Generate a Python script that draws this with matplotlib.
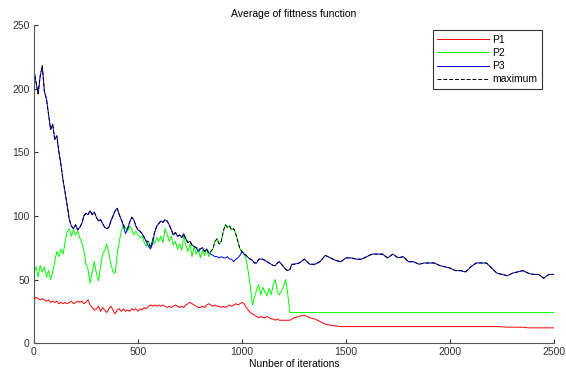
import numpy as np
import matplotlib.pyplot as plt

plt.rcParams['font.family'] = ['Liberation Sans', 'DejaVu Sans']

# iterations: every 10 up to 1250, then every 25 up to 2500
iters = list(range(0, 1251, 10)) + list(range(1275, 2501, 25))

p1 = [34, 36, 35, 34, 35, 34, 33, 34, 32, 33, 32, 33, 31, 32, 31, 32, 31, 32, 33, 31,
      32, 33, 32, 33, 31, 32, 34, 30, 28, 26, 27, 29, 25, 28, 26, 24, 27, 29, 26, 23,
      26, 27, 25, 27, 25, 26, 25, 27, 26, 27, 25, 27, 26, 28, 27, 29, 30, 29, 30, 29,
      30, 29, 30, 29, 28, 29, 28, 29, 30, 29, 28, 29, 28, 30, 31, 32, 31, 30, 29, 28,
      28, 29, 28, 30, 31, 30, 29, 30, 29, 29, 28, 29, 28, 29, 30, 29, 30, 31, 30, 31,
      32, 31, 28, 26, 24, 23, 22, 21, 20, 21, 20, 20, 21, 20, 19, 19, 18, 19, 18, 18,
      18, 18, 18, 18, 19, 20,
      21, 22, 20, 19, 17, 15, 14, 13.5, 13, 13, 13, 13, 13, 13, 13, 13, 13, 13, 13, 13,
      13, 13, 13, 13, 13, 13, 13, 13, 13, 13, 13, 13, 13, 13, 13, 13, 13, 13, 13, 12.8,
      12.5, 12.6, 12.5, 12.5, 12, 12, 12, 12, 12, 12]

p2 = [55, 60, 52, 61, 56, 60, 52, 57, 50, 56, 64, 72, 68, 74, 70, 80, 88, 90, 84, 89,
      85, 88, 83, 79, 73, 62, 58, 47, 56, 64, 55, 49, 60, 70, 73, 78, 70, 62, 56, 55,
      70, 80, 88, 93, 90, 88, 92, 89, 85, 88, 85, 83, 84, 79, 76, 80, 75, 81, 78, 83,
      80, 84, 79, 90, 86, 80, 84, 77, 80, 74, 78, 73, 85, 77, 72, 78, 68, 76, 70, 74,
      67, 73, 69, 74, 68, 72, 74, 80, 82, 78, 80, 88, 93, 91, 92, 89, 90, 86, 80, 74,
      72, 70, 66, 56, 45, 30, 36, 42, 46, 38, 44, 40, 37, 43, 38, 46, 50, 40, 38, 41,
      45, 50, 38, 24, 24, 24,
      24, 24, 24, 24, 24, 24, 24, 24, 24, 24, 24, 24, 24, 24, 24, 24, 24, 24, 24, 24,
      24, 24, 24, 24, 24, 24, 24, 24, 24, 24, 24, 24, 24, 24, 24, 24, 24, 24, 24, 24,
      24, 24, 24, 24, 24, 24, 24, 24, 24, 24]

p3 = [215, 205, 196, 210, 218, 198, 192, 180, 168, 172, 160, 163, 150, 140, 128, 118, 108, 97, 92, 90,
      93, 89, 91, 94, 100, 102, 101, 104, 101, 103, 99, 96, 97, 94, 91, 90, 91, 96, 100, 104,
      106, 101, 97, 92, 86, 90, 95, 99, 97, 92, 89, 88, 86, 83, 80, 76, 74, 78, 87, 92,
      94, 96, 95, 97, 96, 93, 89, 85, 87, 84, 85, 83, 86, 82, 79, 80, 77, 76, 75, 72,
      74, 75, 72, 74, 71, 70, 69, 68, 68, 67, 68, 67, 67, 68, 66, 66, 64, 66, 67, 69,
      72, 70, 69, 67, 66, 65, 63, 63, 66, 66, 66, 65, 64, 63, 62, 61, 61, 63, 64, 62,
      60, 58, 57, 58, 62, 62,
      63, 66, 62, 62, 64, 69, 67, 65, 64, 67, 67, 66, 66, 68, 70, 70, 70, 67, 70, 67,
      68, 64, 64, 62, 63, 63, 63, 61, 60, 59, 57, 57, 56, 60, 63, 63, 63, 59, 55, 54,
      53, 55, 56, 57, 55, 54, 54, 51, 54, 54]

maximum = np.maximum(np.maximum(p1, p2), p3)

fig = plt.figure(figsize=(5.66, 3.75), dpi=100)
ax = fig.add_axes([0.060, 0.085, 0.919, 0.848])

ax.plot(iters, p1, color='#ff0000', lw=0.7, label='P1')
ax.plot(iters, p2, color='#00ff00', lw=0.7, label='P2')
ax.plot(iters, p3, color='#0000ff', lw=0.7, label='P3')
ax.plot(iters, maximum, color='black', lw=0.7, ls=(0, (4, 2)), label='maximum')

ax.set_xlim(0, 2500)
ax.set_ylim(0, 250)
ax.set_xticks([0, 500, 1000, 1500, 2000, 2500])
ax.set_yticks([0, 50, 100, 150, 200, 250])
ax.tick_params(direction='in', length=3, labelsize=7.5, colors='#333333', pad=3)
for s in ['top', 'right']:
    ax.spines[s].set_visible(False)
for s in ['left', 'bottom']:
    ax.spines[s].set_color('#555555')
    ax.spines[s].set_linewidth(0.8)

ax.set_title('Average of fittness function', fontsize=7.5, pad=6)
ax.set_xlabel('Nunber of iterations', fontsize=7.5, labelpad=1)

leg = ax.legend(loc='upper right', bbox_to_anchor=(0.987, 1.0), fontsize=7.5,
                fancybox=False, framealpha=1, edgecolor='#333333',
                handlelength=5.0, handletextpad=0.3, labelspacing=0.3,
                borderpad=0.45)
leg.get_frame().set_linewidth(0.8)

fig.savefig('out.png', dpi=100)
